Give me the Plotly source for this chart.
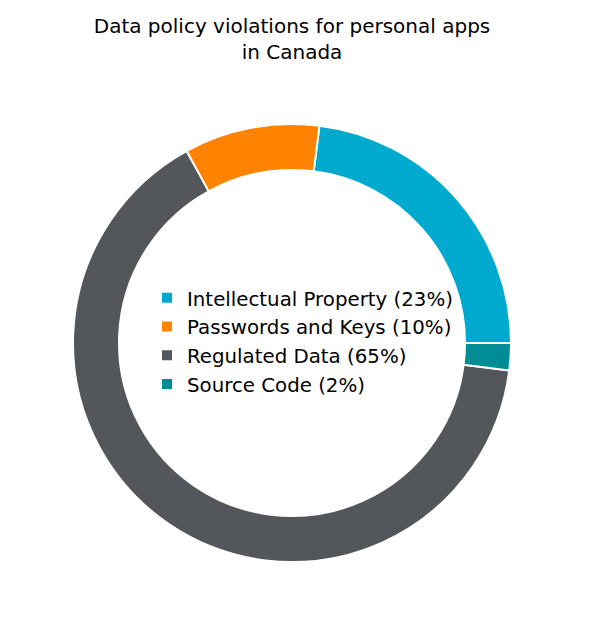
import plotly.graph_objects as go

categories = ["Intellectual Property", "Passwords and Keys", "Regulated Data", "Source Code"]
values = [23, 10, 65, 2]
colors = ["#00A9CE", "#FF8200", "#53565A", "#008C95"]

labels = [f"{c} ({v}%)" for c, v in zip(categories, values)]

W, H = 600, 634
cx, cy, r = 284, 335, 219

start_rot = 90 - 360 * values[0] / sum(values)

fig = go.Figure(go.Pie(
    labels=labels,
    values=values,
    sort=False,
    direction="counterclockwise",
    rotation=start_rot,
    hole=0.79,
    marker=dict(colors=colors, line=dict(color="white", width=2)),
    textinfo="none",
    hoverinfo="label+value",
    domain=dict(x=[(cx - r) / W, (cx + r) / W], y=[(H - cy - r) / H, (H - cy + r) / H]),
))

fig.update_layout(
    width=W, height=H,
    margin=dict(l=0, r=0, t=0, b=0),
    paper_bgcolor="white",
    plot_bgcolor="white",
    font=dict(family="DejaVu Sans", color="black"),
    title=dict(
        text="Data policy violations for personal apps<br>in Canada",
        x=284 / W, xanchor="center",
        yref="container", y=1 - 25 / H, yanchor="middle",
        font=dict(size=20, family="DejaVu Sans", color="black"),
    ),
    legend=dict(
        x=139 / W, xanchor="left",
        y=(H - 333) / H, yanchor="middle",
        font=dict(size=19.8, family="DejaVu Sans", color="black"),
        bgcolor="rgba(0,0,0,0)",
        tracegroupgap=0,
    ),
    showlegend=True,
)

fig.write_html("out.html")
